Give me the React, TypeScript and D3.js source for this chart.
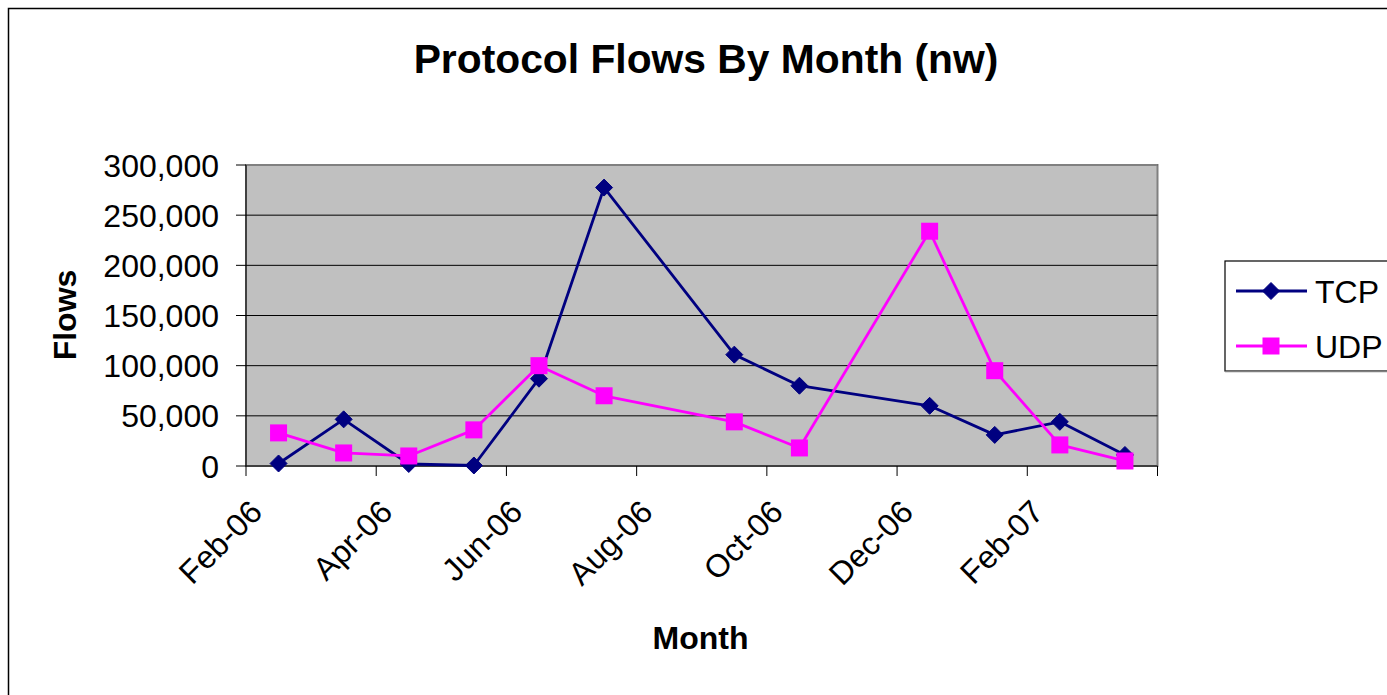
import React from "react";
import * as d3 from "d3";

const title = "Protocol Flows By Month (nw)";
const xTitle = "Month";
const yTitle = "Flows";

// Months of the data points (YYYY-MM)
const months = ["2006-02", "2006-03", "2006-04", "2006-05", "2006-06", "2006-07", "2006-09", "2006-10", "2006-12", "2007-01", "2007-02", "2007-03"];
const tcp = [2500, 46500, 2000, 500, 87000, 277500, 111000, 80000, 60000, 31000, 44000, 11000];
const udp = [33000, 13000, 10000, 36000, 100000, 70000, 44000, 18000, 234000, 95000, 21000, 5000];

const axisStart = "2006-02";
const axisMonthCount = 14;
const tickLabels = ["Feb-06", "Apr-06", "Jun-06", "Aug-06", "Oct-06", "Dec-06", "Feb-07"];
const yTicks = [0, 50000, 100000, 150000, 200000, 250000, 300000];

const series = [
  { name: "TCP", values: tcp, color: "#000080", marker: "diamond" },
  { name: "UDP", values: udp, color: "#FF00FF", marker: "square" },
];

const FONT = "'Liberation Sans', Arial, Helvetica, sans-serif";

function monthIndex(s: string): number {
  const [y, m] = s.split("-").map(Number);
  const [y0, m0] = axisStart.split("-").map(Number);
  return (y - y0) * 12 + (m - m0);
}

function Marker({ type, x, y, color }: { type: string; x: number; y: number; color: string }) {
  if (type === "diamond") {
    const r = 8.5;
    return <path d={`M${x},${y - r}L${x + r},${y}L${x},${y + r}L${x - r},${y}Z`} fill={color} stroke={color} strokeWidth={1} />;
  }
  const s = 17;
  return <rect x={x - s / 2} y={y - s / 2} width={s} height={s} fill={color} />;
}

export default function App() {
  const W = 1387;
  const H = 695;
  const left = 246, right = 1157.5, top = 165, bottom = 466;

  const x = d3.scaleLinear().domain([0, axisMonthCount]).range([left, right]);
  const y = d3.scaleLinear().domain([0, 300000]).range([bottom, top]);
  const fmt = d3.format(",");

  const line = d3
    .line<[number, number]>()
    .x((d) => x(d[0]))
    .y((d) => y(d[1]));

  const tickPositions = d3.range(0, axisMonthCount + 1, 2);

  return (
    <svg width={W} height={H} style={{ position: "absolute", left: 0, top: 0, background: "#fff" }} fontFamily={FONT}>
      <rect x={0} y={0} width={W} height={H} fill="#fff" />
      {/* chart border */}
      <rect x={8.5} y={8.5} width={W + 20} height={H + 20} fill="none" stroke="#000" strokeWidth={1.5} />

      {/* title */}
      <text x={706} y={73} textAnchor="middle" fontSize={40.8} fontWeight="bold" fill="#000">
        {title}
      </text>

      {/* plot area */}
      <rect x={left} y={top} width={right - left} height={bottom - top} fill="#C0C0C0" stroke="#808080" strokeWidth={2} />

      {/* gridlines */}
      {yTicks.map((t) =>
        t === 0 ? null : (
          <line key={"g" + t} x1={left} x2={right} y1={y(t)} y2={y(t)} stroke="#000" strokeWidth={1} />
        )
      )}
      <line x1={left} x2={right} y1={top} y2={top} stroke="#808080" strokeWidth={2} />

      {/* y axis */}
      <line x1={left} x2={left} y1={top} y2={bottom} stroke="#000" strokeWidth={1} />
      {yTicks.map((t) => (
        <g key={"y" + t}>
          <line x1={left - 10} x2={left} y1={y(t)} y2={y(t)} stroke="#000" strokeWidth={1} />
          <text x={219} y={y(t)} dy="0.36em" textAnchor="end" fontSize={32} fill="#000">
            {fmt(t)}
          </text>
        </g>
      ))}

      {/* x axis */}
      <line x1={left} x2={right} y1={bottom} y2={bottom} stroke="#000" strokeWidth={1} />
      {tickPositions.map((p) => (
        <line key={"xt" + p} x1={x(p)} x2={x(p)} y1={bottom} y2={bottom + 10} stroke="#000" strokeWidth={1} />
      ))}
      {tickLabels.map((lab, i) => {
        const tx = x(tickPositions[i]) + 18;
        const ty = bottom + 48;
        return (
          <text key={"xl" + lab} transform={`translate(${tx},${ty}) rotate(-45)`} textAnchor="end" fontSize={32} fill="#000">
            {lab}
          </text>
        );
      })}

      {/* axis titles */}
      <text x={700.5} y={649} textAnchor="middle" fontSize={32} fontWeight="bold" fill="#000">
        {xTitle}
      </text>
      <text transform="translate(76,315) rotate(-90)" textAnchor="middle" fontSize={32} fontWeight="bold" fill="#000">
        {yTitle}
      </text>

      {/* series */}
      {series.map((s) => {
        const pts: [number, number][] = months.map((m, i) => [monthIndex(m) + 0.5, s.values[i]]);
        return (
          <g key={s.name}>
            <path d={line(pts) || ""} fill="none" stroke={s.color} strokeWidth={2.8} strokeLinejoin="round" />
            {pts.map((p, i) => (
              <Marker key={i} type={s.marker} x={x(p[0])} y={y(p[1])} color={s.color} />
            ))}
          </g>
        );
      })}

      {/* legend */}
      <rect x={1225} y={261} width={200} height={110} fill="#fff" stroke="#000" strokeWidth={1.2} />
      <line x1={1225} x2={1400} y1={371.5} y2={371.5} stroke="#808080" strokeWidth={1.5} />
      {series.map((s, i) => {
        const ly = 291 + i * 55;
        return (
          <g key={"lg" + s.name}>
            <line x1={1236} x2={1307} y1={ly} y2={ly} stroke={s.color} strokeWidth={2.8} />
            <Marker type={s.marker} x={1271} y={ly} color={s.color} />
            <text x={1315} y={ly} dy="0.36em" fontSize={32} fill="#000">
              {s.name}
            </text>
          </g>
        );
      })}
    </svg>
  );
}
